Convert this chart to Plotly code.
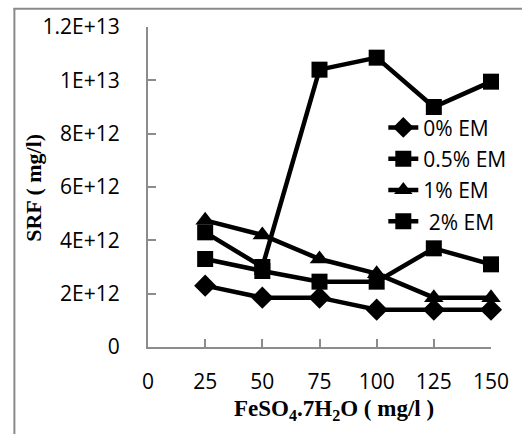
import plotly.graph_objects as go

x_vals = [25, 50, 75, 100, 125, 150]
em0 = [2.3e12, 1.85e12, 1.85e12, 1.4e12, 1.4e12, 1.4e12]
em05 = [4.3e12, 3.0e12, 1.04e13, 1.085e13, 9.0e12, 9.95e12]
em1 = [4.75e12, 4.2e12, 3.3e12, 2.75e12, 1.85e12, 1.85e12]
em2 = [3.3e12, 2.85e12, 2.45e12, 2.45e12, 3.7e12, 3.1e12]

series_names = ["0% EM", "0.5% EM", "1% EM", " 2% EM"]
series_symbols = ["diamond", "square", "triangle-up", "square"]

x_ticks = [0, 25, 50, 75, 100, 125, 150]
y_ticks = [0, 2e12, 4e12, 6e12, 8e12, 1e13, 1.2e13]
y_tick_text = ["0", "2E+12", "4E+12", "6E+12", "8E+12", "1E+13", "1.2E+13"]

W, H = 523, 434
L, R, T, B = 148, 31, 24, 87
PW, PH = W - L - R, H - T - B


def px_x(p):
    return (p - L) / PW


def px_y(p):
    return (H - B - p) / PH


fig = go.Figure()
sizes = [17, 16, 17, 16]
for i, (name, ys, sym, sz) in enumerate(zip(series_names, [em0, em05, em1, em2], series_symbols, sizes)):
    fig.add_trace(go.Scatter(
        x=x_vals, y=ys, name=name, mode="lines+markers", legendgroup=f"g{i}",
        line=dict(color="black", width=4.5),
        marker=dict(symbol=sym, size=sz, color="black"),
        cliponaxis=False,
    ))

axis_grey = "#8c8c8c"
border_grey = "#8a8a8a"
fig.update_layout(
    width=W, height=H, autosize=False,
    margin=dict(l=L, r=R, t=T, b=B),
    paper_bgcolor="white", plot_bgcolor="white",
    font=dict(family="Open Sans", size=21, color="black"),
    showlegend=True,
    legend=dict(
        x=px_x(384), y=px_y(105),
        xanchor="left", yanchor="top",
        bgcolor="rgba(0,0,0,0)", font=dict(size=21, family="Open Sans"),
        tracegroupgap=1, itemwidth=30,
    ),
    xaxis=dict(
        range=[0, 150], tickvals=x_ticks, ticktext=[str(v) for v in x_ticks],
        showgrid=False, zeroline=False, showline=True, linecolor=axis_grey, linewidth=2,
        ticks="inside", ticklen=8, tickwidth=2, tickcolor=axis_grey,
        ticklabelstandoff=15, tickfont=dict(size=21),
    ),
    yaxis=dict(
        range=[0, 1.2e13], tickvals=y_ticks, ticktext=y_tick_text,
        showgrid=False, zeroline=False, showline=True, linecolor=axis_grey, linewidth=2,
        ticks="inside", ticklen=8, tickwidth=2, tickcolor=axis_grey,
        ticklabelstandoff=22, tickfont=dict(size=21),
    ),
    shapes=[
        dict(type="line", xref="paper", yref="paper",
             x0=px_x(14), x1=px_x(14), y0=px_y(440), y1=px_y(5),
             line=dict(color=border_grey, width=2)),
        dict(type="line", xref="paper", yref="paper",
             x0=px_x(13), x1=px_x(523), y0=px_y(5.5), y1=px_y(5.5),
             line=dict(color=border_grey, width=2)),
    ],
    annotations=[
        dict(text="<b>FeSO<sub>4</sub>.7H<sub>2</sub>O ( mg/l )</b>", xref="paper", yref="paper",
             x=px_x(335), y=px_y(411),
             xanchor="center", yanchor="middle", showarrow=False,
             font=dict(family="Liberation Serif", size=23, color="black")),
        dict(text="<b>SRF ( mg/l)</b>", xref="paper", yref="paper",
             x=px_x(33), y=px_y(186),
             xanchor="center", yanchor="middle", showarrow=False, textangle=-90,
             font=dict(family="Liberation Serif", size=22, color="black")),
    ],
)

fig.write_html("out.html", config={"displayModeBar": False},
               post_script="document.body.style.margin='0';document.body.style.padding='0';")
